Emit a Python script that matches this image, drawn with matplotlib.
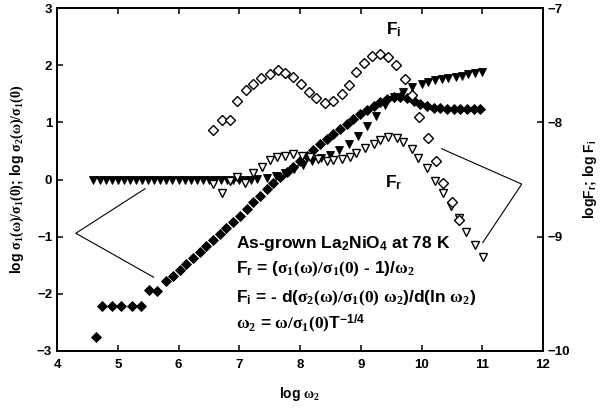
import matplotlib
matplotlib.use("Agg")
import matplotlib.pyplot as plt

plt.rcParams['font.family'] = ['Liberation Sans', 'DejaVu Sans']
plt.rcParams['font.weight'] = 'bold'
plt.rcParams['mathtext.fontset'] = 'custom'
plt.rcParams['mathtext.rm'] = 'Liberation Serif'
plt.rcParams['mathtext.it'] = 'Liberation Serif'
plt.rcParams['mathtext.bf'] = 'Liberation Sans:weight=bold'

# log sigma2(w)/sigma1(0)  (filled triangles, left axis)
s2_x = [4.6, 4.7, 4.8, 4.9, 5.0, 5.1, 5.2, 5.3, 5.4, 5.5, 5.6, 5.7, 5.8, 5.9,
        6.0, 6.1, 6.2, 6.3, 6.4, 6.5, 6.6, 6.7, 6.8, 6.9, 7.0, 7.1, 7.2, 7.3,
        7.45, 7.6, 7.75, 7.9, 8.05, 8.2, 8.35, 8.5, 8.65, 8.8, 8.95, 9.1, 9.25,
        9.4, 9.55, 9.7, 9.85, 10.0, 10.1, 10.22, 10.34, 10.44, 10.56, 10.67,
        10.77, 10.88, 11.0]
s2_y = [0.0, 0.0, 0.0, 0.0, 0.0, 0.0, 0.0, 0.0, 0.0, 0.0, 0.0, 0.0, 0.0, 0.0,
        0.0, 0.0, 0.0, 0.0, 0.0, 0.0, 0.0, 0.0, 0.0, 0.0, 0.0, 0.0, 0.0, 0.01,
        0.03, 0.07, 0.12, 0.19, 0.26, 0.32, 0.37, 0.43, 0.52, 0.62, 0.76, 0.93, 1.12,
        1.30, 1.44, 1.53, 1.62, 1.68, 1.71, 1.74, 1.76, 1.78, 1.80, 1.82,
        1.84, 1.86, 1.88]

# log sigma1(w)/sigma1(0)  (filled diamonds, left axis)
s1_x = [4.65, 4.74, 4.90, 5.06, 5.23, 5.39, 5.52, 5.64,
        5.80, 5.91, 6.02, 6.13, 6.24, 6.35, 6.46, 6.57, 6.68, 6.79, 6.90,
        7.01, 7.12, 7.23, 7.34, 7.45, 7.56, 7.67, 7.78, 7.89, 8.00, 8.11,
        8.22, 8.33, 8.44, 8.55, 8.66, 8.77, 8.88, 8.99, 9.10, 9.21, 9.32,
        9.43, 9.54, 9.65, 9.76, 9.87, 9.98, 10.09, 10.20, 10.31, 10.42,
        10.53, 10.64, 10.75, 10.86, 10.97]
s1_y = [-2.75, -2.22, -2.22, -2.22, -2.22, -2.22, -1.93, -1.95,
        -1.78, -1.68, -1.58, -1.48, -1.38, -1.27, -1.16, -1.05, -0.95, -0.85, -0.75,
        -0.63, -0.52, -0.40, -0.29, -0.17, -0.06, 0.04, 0.13, 0.22, 0.32, 0.42,
        0.52, 0.62, 0.71, 0.80, 0.89, 0.97, 1.06, 1.14, 1.22, 1.29, 1.35,
        1.41, 1.45, 1.45, 1.42, 1.37, 1.32, 1.28, 1.26, 1.25, 1.24,
        1.24, 1.24, 1.23, 1.23, 1.23]

# log Fr (open triangles, right axis)
fr_x = [6.57, 6.71, 6.85, 6.96, 7.09, 7.23, 7.37, 7.51, 7.62, 7.75, 7.89,
        8.03, 8.17, 8.30, 8.44, 8.55, 8.69, 8.82, 8.93, 9.07, 9.21, 9.32,
        9.45, 9.59, 9.70, 9.84, 9.95, 10.09, 10.22, 10.35, 10.48, 10.61,
        10.74, 10.88, 11.01]
fr_y = [-8.54, -8.62, -8.51, -8.48, -8.53, -8.44, -8.39, -8.33, -8.30, -8.29, -8.28,
        -8.29, -8.30, -8.32, -8.34, -8.33, -8.32, -8.30, -8.27, -8.22, -8.19, -8.15,
        -8.13, -8.14, -8.17, -8.23, -8.31, -8.40, -8.51, -8.62, -8.73, -8.84,
        -8.96, -9.07, -9.18]

# log Fi (open diamonds, right axis)
fi_x = [6.57, 6.71, 6.84, 6.97, 7.11, 7.23, 7.36, 7.50, 7.63, 7.76, 7.89,
        8.02, 8.15, 8.27, 8.41, 8.55, 8.69, 8.81, 8.93, 9.06, 9.19, 9.32,
        9.45, 9.58, 9.73, 9.84, 9.96, 10.10, 10.24, 10.36, 10.50, 10.62]
fi_y = [-8.07, -7.98, -7.98, -7.81, -7.72, -7.66, -7.61, -7.58, -7.54, -7.57, -7.60,
        -7.66, -7.73, -7.79, -7.83, -7.81, -7.75, -7.67, -7.56, -7.48, -7.42, -7.40,
        -7.43, -7.50, -7.62, -7.76, -7.95, -8.14, -8.34, -8.53, -8.70, -8.85]

# bracket lines pointing to the axes (left-axis data units)
left_br_x = [5.45, 4.31, 5.59]
left_br_y = [-0.16, -0.94, -1.71]
right_br_x = [10.33, 11.65, 11.01]
right_br_y = [0.54, -0.08, -1.10]

fig = plt.figure(figsize=(6, 4.09), dpi=100)
ax = fig.add_axes([0.095, 0.142, 0.81, 0.838])
ax2 = ax.twinx()

ax.plot(s2_x, s2_y, 'v', color='black', markersize=6, markeredgewidth=0.6)
ax.plot(s1_x, s1_y, 'D', color='black', markersize=5, markeredgewidth=0.6)
ax2.plot(fr_x, fr_y, 'v', markerfacecolor='white', markeredgecolor='black',
         markersize=6, markeredgewidth=1.0)
ax2.plot(fi_x, fi_y, 'D', markerfacecolor='white', markeredgecolor='black',
         markersize=5, markeredgewidth=1.0)

ax.plot(left_br_x, left_br_y, color='black', lw=0.8)
ax.plot(right_br_x, right_br_y, color='black', lw=0.8, clip_on=False)

ax.set_xlim(4, 12)
ax.set_ylim(-3, 3)
ax2.set_ylim(-10, -7)
ax.set_xticks(range(4, 13))
ax.set_yticks(range(-3, 4))
ax2.set_yticks([-10, -9, -8, -7])

for a in (ax, ax2):
    for s in a.spines.values():
        s.set_linewidth(1.3)
    a.tick_params(direction='in', length=4, width=1.1, labelsize=9.5)
ax.tick_params(top=True)
ax.tick_params(axis='x', pad=6)
for lab in ax.get_xticklabels() + ax.get_yticklabels() + ax2.get_yticklabels():
    lab.set_fontweight('bold')

ax.set_xlabel(r'log $\omega_2$', fontsize=10, fontweight='bold', labelpad=10)
ax.set_ylabel(r'log $\sigma_1(\omega)/\sigma_1(0)$; log $\sigma_2(\omega)/\sigma_1(0)$',
              fontsize=10, fontweight='bold', labelpad=8)
ax2.set_ylabel(r'log$\mathbf{F_r}$; log $\mathbf{F_i}$', fontsize=10,
               fontweight='bold', labelpad=8)

ax.text(9.55, 2.62, r'$\mathbf{F_i}$', fontsize=12.5, ha='center', va='center')
ax.text(9.55, -0.05, r'$\mathbf{F_r}$', fontsize=12.5, ha='center', va='center')

tx = 6.95
ax.text(tx, -1.12, r'As-grown La$\mathbf{_2}$NiO$\mathbf{_4}$ at 78 K', fontsize=12.5,
        fontweight='bold', va='center')
ax.text(tx, -1.57, r'$\mathbf{F_r}$ = ($\sigma_1(\omega)/\sigma_1(0)$ - 1)/$\omega_2$',
        fontsize=12.5, fontweight='bold', va='center')
ax.text(tx, -2.08, r'$\mathbf{F_i}$ = - d($\sigma_2(\omega)/\sigma_1(0)\ \omega_2$)/d(ln $\omega_2$)',
        fontsize=12.5, fontweight='bold', va='center')
ax.text(tx, -2.53, r'$\omega_2$ = $\omega/\sigma_1(0)$T$^{\mathbf{-1/4}}$',
        fontsize=12.5, fontweight='bold', va='center')

fig.savefig('out.png', dpi=100)
